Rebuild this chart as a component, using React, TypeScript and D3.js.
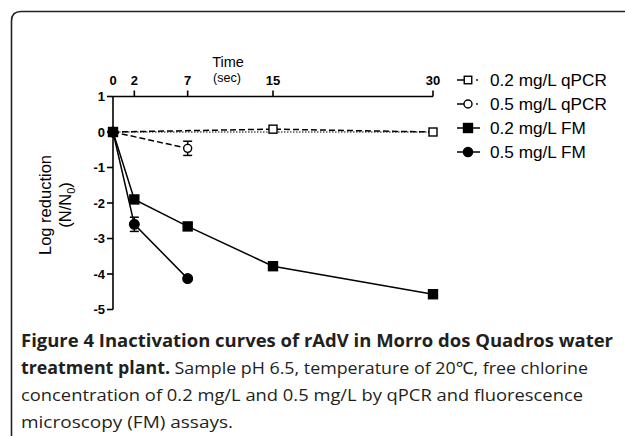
import React from "react";
import * as d3 from "d3";

const xTicks = [0, 2, 7, 15, 30];
const yTicks = [1, 0, -1, -2, -3, -4, -5];

const qpcr02 = [
  { t: 0, v: 0 },
  { t: 15, v: 0.08 },
  { t: 30, v: 0 },
];
const qpcr05 = [
  { t: 0, v: 0 },
  { t: 7, v: -0.46, e: 0.2 },
];
const fm02 = [
  { t: 0, v: 0 },
  { t: 2, v: -1.9 },
  { t: 7, v: -2.66 },
  { t: 15, v: -3.78 },
  { t: 30, v: -4.57 },
];
const fm05 = [
  { t: 0, v: 0 },
  { t: 2, v: -2.6, e: 0.2 },
  { t: 7, v: -4.13 },
];
const legendLabels = ["0.2 mg/L qPCR", "0.5 mg/L qPCR", "0.2 mg/L FM", "0.5 mg/L FM"];

const captionLines = [
  { bold: "Figure 4 Inactivation curves of rAdV in Morro dos Quadros water", rest: "" },
  { bold: "treatment plant.", rest: " Sample pH 6.5, temperature of 20\u2103, free chlorine" },
  { bold: "", rest: "concentration of 0.2 mg/L and 0.5 mg/L by qPCR and fluorescence" },
  { bold: "", rest: "microscopy (FM) assays." },
];
const captionWidths = [592, 567, 562, 212];

export default function App() {
  const x = d3.scaleLinear().domain([0, 30]).range([113, 433]);
  const y = d3.scaleLinear().domain([1, -5]).range([96.5, 309.5]);
  const line = d3
    .line<{ t: number; v: number }>()
    .x((d) => x(d.t))
    .y((d) => y(d.v));
  const font = "'Liberation Sans', Arial, sans-serif";
  const capFont = "'Open Sans', 'Noto Sans', sans-serif";

  const sq = (cx: number, cy: number, s: number, filled: boolean, key: string) => (
    <rect
      key={key}
      x={cx - s / 2}
      y={cy - s / 2}
      width={s}
      height={s}
      fill={filled ? "#000" : "#fff"}
      stroke="#000"
      strokeWidth={1.4}
    />
  );
  const circ = (cx: number, cy: number, r: number, filled: boolean, key: string) => (
    <circle key={key} cx={cx} cy={cy} r={r} fill={filled ? "#000" : "#fff"} stroke="#000" strokeWidth={1.4} />
  );
  const errBar = (d: { t: number; v: number; e?: number }, key: string) =>
    d.e ? (
      <g key={key} stroke="#000" strokeWidth={1.5}>
        <line x1={x(d.t)} x2={x(d.t)} y1={y(d.v + d.e)} y2={y(d.v - d.e)} />
        <line x1={x(d.t) - 4.5} x2={x(d.t) + 4.5} y1={y(d.v + d.e)} y2={y(d.v + d.e)} />
        <line x1={x(d.t) - 4.5} x2={x(d.t) + 4.5} y1={y(d.v - d.e)} y2={y(d.v - d.e)} />
      </g>
    ) : null;

  const legendY = (i: number) => 80 + i * 24;

  return (
    <svg
      width={625}
      height={436}
      style={{ position: "absolute", left: 0, top: 0, background: "#fff" }}
    >
      {/* frame */}
      <path d="M11.5,436 L11.5,21 Q11.5,11.5 21,11.5 L625,11.5" fill="none" stroke="#222" strokeWidth={1.6} />

      {/* axis titles */}
      <text x={228} y={67} textAnchor="middle" fontFamily={font} fontSize={14.5}>Time</text>
      <text x={227} y={82} textAnchor="middle" fontFamily={font} fontSize={12.5}>(sec)</text>
      <g transform="translate(51,205) rotate(-90)">
        <text x={0} y={0} textAnchor="middle" fontFamily={font} fontSize={16.5}>Log reduction</text>
      </g>
      <g transform="translate(71,205) rotate(-90)">
        <text x={0} y={0} textAnchor="middle" fontFamily={font} fontSize={16.5}>
          (N/N<tspan fontSize={11} dy={4}>0</tspan><tspan dy={-4}>)</tspan>
        </text>
      </g>

      {/* x axis (top) */}
      <line x1={x(0)} x2={x(30)} y1={y(1)} y2={y(1)} stroke="#000" strokeWidth={1.6} />
      {xTicks.filter((t) => t !== 0).map((t) => (
        <line key={"xl" + t} x1={x(t)} x2={x(t)} y1={y(1)} y2={y(1) - 6} stroke="#000" strokeWidth={1.6} />
      ))}
      {xTicks.map((t) => (
        <text key={"xt" + t} x={x(t)} y={y(1) - 12} textAnchor="middle" fontFamily={font} fontSize={13} fontWeight="bold">
          {t}
        </text>
      ))}

      {/* y axis */}
      <line x1={x(0)} x2={x(0)} y1={y(1)} y2={y(-5)} stroke="#000" strokeWidth={1.6} />
      {yTicks.map((v) => (
        <g key={"yt" + v}>
          <line x1={x(0) - 6} x2={x(0)} y1={y(v)} y2={y(v)} stroke="#000" strokeWidth={1.6} />
          <text x={x(0) - 8} y={y(v) + 4.5} textAnchor="end" fontFamily={font} fontSize={13} fontWeight="bold">
            {v}
          </text>
        </g>
      ))}

      {/* zero dotted reference */}
      <line x1={x(0)} x2={x(30)} y1={y(0)} y2={y(0)} stroke="#000" strokeWidth={1} strokeDasharray="1.5,1.5" />

      {/* series lines */}
      <path d={line(qpcr02) || ""} fill="none" stroke="#000" strokeWidth={1.5} strokeDasharray="6,3" />
      <path d={line(qpcr05) || ""} fill="none" stroke="#000" strokeWidth={1.5} strokeDasharray="6,3" />
      <path d={line(fm02) || ""} fill="none" stroke="#000" strokeWidth={1.5} />
      <path d={line(fm05) || ""} fill="none" stroke="#000" strokeWidth={1.5} />

      {/* error bars */}
      {qpcr05.map((d, i) => errBar(d, "e1" + i))}
      {fm05.map((d, i) => errBar(d, "e2" + i))}

      {/* markers */}
      {qpcr02.map((d, i) => sq(x(d.t), y(d.v), 8, false, "a" + i))}
      {qpcr05.map((d, i) => circ(x(d.t), y(d.v), 4, false, "b" + i))}
      {fm02.map((d, i) => sq(x(d.t), y(d.v), 9, true, "c" + i))}
      {fm05.map((d, i) => circ(x(d.t), y(d.v), 4.8, true, "d" + i))}

      {/* legend */}
      {legendLabels.map((lab, i) => {
        const ly = legendY(i);
        const cx = 468;
        const open = i < 2;
        return (
          <g key={"lg" + i}>
            {open ? (
              <>
                <line x1={457} x2={464} y1={ly} y2={ly} stroke="#000" strokeWidth={1.5} />
                <circle cx={477} cy={ly} r={0.9} fill="#000" />
              </>
            ) : (
              <line x1={457} x2={480} y1={ly} y2={ly} stroke="#000" strokeWidth={1.5} />
            )}
            {i % 2 === 0 ? sq(cx, ly, open ? 7.5 : 9, !open, "ls" + i) : circ(cx, ly, open ? 4 : 4.6, !open, "lc" + i)}
            <text x={490} y={ly + 6} fontFamily={font} fontSize={17.2}>
              {lab}
            </text>
          </g>
        );
      })}

      {/* caption */}
      {captionLines.map((c, i) => (
        <text
          key={"cap" + i}
          x={21}
          y={347 + i * 27}
          fontFamily={capFont}
          fontSize={17}
          fill="#231f20"
          textLength={captionWidths[i]}
          lengthAdjust="spacingAndGlyphs"
        >
          {c.bold ? <tspan fontWeight="bold">{c.bold}</tspan> : null}
          {c.rest ? <tspan fontWeight="normal">{c.rest}</tspan> : null}
        </text>
      ))}
    </svg>
  );
}
